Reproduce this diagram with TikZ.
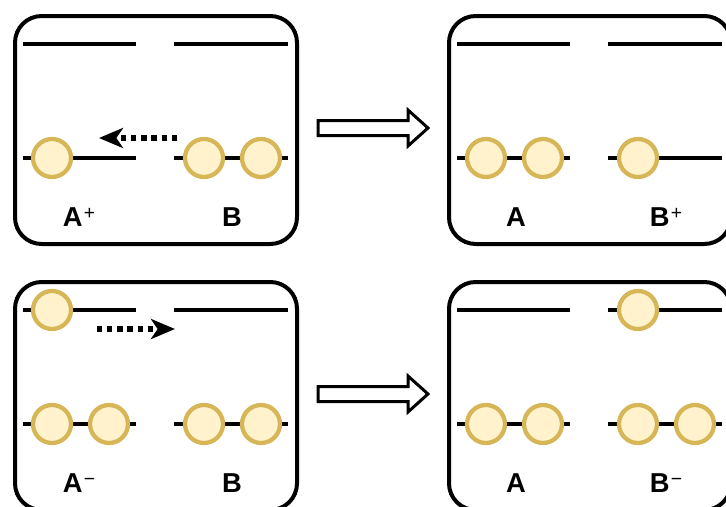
\documentclass[tikz,border=0pt]{standalone}
\usepackage{fontspec}
\setmainfont{Liberation Sans}
\usetikzlibrary{arrows.meta}
\definecolor{ballfill}{HTML}{FFF2CC}
\definecolor{ballline}{HTML}{D6B656}
\tikzset{
  panel/.style={draw=black, line width=3pt, rounded corners=20pt, minimum width=211.5pt, minimum height=171pt, inner sep=0pt},
  wire/.style={draw=black, line width=3pt},
  ball/.style={circle, draw=ballline, fill=ballfill, line width=3.2pt, minimum size=28.5pt, inner sep=0pt},
  lbl/.style={font=\fontsize{20.5}{24}\selectfont\bfseries, anchor=base, inner sep=0pt},
  dotarrow/.style={draw=black, line width=3.8pt, dash pattern=on 4pt off 3.6pt, -{Stealth[length=18pt 0 0,width=15pt 0,inset=5pt 0]}},
  bigarrow/.style={draw=black, line width=2.25pt, fill=white, line join=miter}
}
\newcommand{\supr}[1]{\kern1pt\raisebox{5pt}{\fontsize{14.5}{15}\selectfont\mdseries #1}}
\begin{document}
\begin{tikzpicture}[x=0.75pt,y=-0.75pt]
\useasboundingbox (0,0) rectangle (726,507);
\clip (0,0) rectangle (726,507);

% ---------- panel 1 (top left)
\node[panel] (p1) at (156,130) {};
\coordinate (p1ua) at (23,44);  \coordinate (p1ub) at (136,44);
\coordinate (p1uc) at (174,44); \coordinate (p1ud) at (288,44);
\coordinate (p1la) at (23,158);  \coordinate (p1lb) at (136,158);
\coordinate (p1lc) at (174,158); \coordinate (p1ld) at (288,158);
\draw[wire] (p1ua) -- (p1ub); \draw[wire] (p1uc) -- (p1ud);
\draw[wire] (p1la) -- (p1lb); \draw[wire] (p1lc) -- (p1ld);
\node[ball] (p1a1) at (52,158) {};
\node[ball] (p1b1) at (204,158) {};
\node[ball] (p1b2) at (261,158) {};
\node[lbl] (p1A) at (79,226) {A\supr{+}};
\node[lbl] (p1B) at (232,226) {B};
\coordinate (p1s) at (177,138); \coordinate (p1t) at (99,138);
\draw[dotarrow] (p1s) -- (p1t);

% ---------- panel 2 (top right)
\begin{scope}[shift={(434,0)}]
\node[panel] (p2) at (156,130) {};
\coordinate (p2ua) at (23,44);  \coordinate (p2ub) at (136,44);
\coordinate (p2uc) at (174,44); \coordinate (p2ud) at (288,44);
\coordinate (p2la) at (23,158);  \coordinate (p2lb) at (136,158);
\coordinate (p2lc) at (174,158); \coordinate (p2ld) at (288,158);
\draw[wire] (p2ua) -- (p2ub); \draw[wire] (p2uc) -- (p2ud);
\draw[wire] (p2la) -- (p2lb); \draw[wire] (p2lc) -- (p2ld);
\node[ball] (p2a1) at (52,158) {};
\node[ball] (p2a2) at (109,158) {};
\node[ball] (p2b1) at (204,158) {};
\node[lbl] (p2A) at (82,226) {A};
\node[lbl] (p2B) at (232,226) {B\supr{+}};
\end{scope}

% ---------- panel 3 (bottom left)
\begin{scope}[shift={(0,266)}]
\node[panel] (p3) at (156,130) {};
\coordinate (p3ua) at (23,44);  \coordinate (p3ub) at (136,44);
\coordinate (p3uc) at (174,44); \coordinate (p3ud) at (288,44);
\coordinate (p3la) at (23,158);  \coordinate (p3lb) at (136,158);
\coordinate (p3lc) at (174,158); \coordinate (p3ld) at (288,158);
\draw[wire] (p3ua) -- (p3ub); \draw[wire] (p3uc) -- (p3ud);
\draw[wire] (p3la) -- (p3lb); \draw[wire] (p3lc) -- (p3ld);
\node[ball] (p3u1) at (52,44) {};
\node[ball] (p3a1) at (52,158) {};
\node[ball] (p3a2) at (109,158) {};
\node[ball] (p3b1) at (204,158) {};
\node[ball] (p3b2) at (261,158) {};
\node[lbl] (p3A) at (79,226) {A\supr{−}};
\node[lbl] (p3B) at (232,226) {B};
\coordinate (p3s) at (97,63); \coordinate (p3t) at (175,63);
\draw[dotarrow] (p3s) -- (p3t);
\end{scope}

% ---------- panel 4 (bottom right)
\begin{scope}[shift={(434,266)}]
\node[panel] (p4) at (156,130) {};
\coordinate (p4ua) at (23,44);  \coordinate (p4ub) at (136,44);
\coordinate (p4uc) at (174,44); \coordinate (p4ud) at (288,44);
\coordinate (p4la) at (23,158);  \coordinate (p4lb) at (136,158);
\coordinate (p4lc) at (174,158); \coordinate (p4ld) at (288,158);
\draw[wire] (p4ua) -- (p4ub); \draw[wire] (p4uc) -- (p4ud);
\draw[wire] (p4la) -- (p4lb); \draw[wire] (p4lc) -- (p4ld);
\node[ball] (p4u1) at (204,44) {};
\node[ball] (p4a1) at (52,158) {};
\node[ball] (p4a2) at (109,158) {};
\node[ball] (p4b1) at (204,158) {};
\node[ball] (p4b2) at (261,158) {};
\node[lbl] (p4A) at (82,226) {A};
\node[lbl] (p4B) at (232,226) {B\supr{−}};
\end{scope}

% ---------- big hollow arrows
\draw[bigarrow] (318,120.5) -- (408,120.5) -- (408,110) -- (428,128) -- (408,146) -- (408,135.5) -- (318,135.5) -- cycle;
\draw[bigarrow] (318,386.5) -- (408,386.5) -- (408,376) -- (428,394) -- (408,412) -- (408,401.5) -- (318,401.5) -- cycle;
\end{tikzpicture}
\end{document}
